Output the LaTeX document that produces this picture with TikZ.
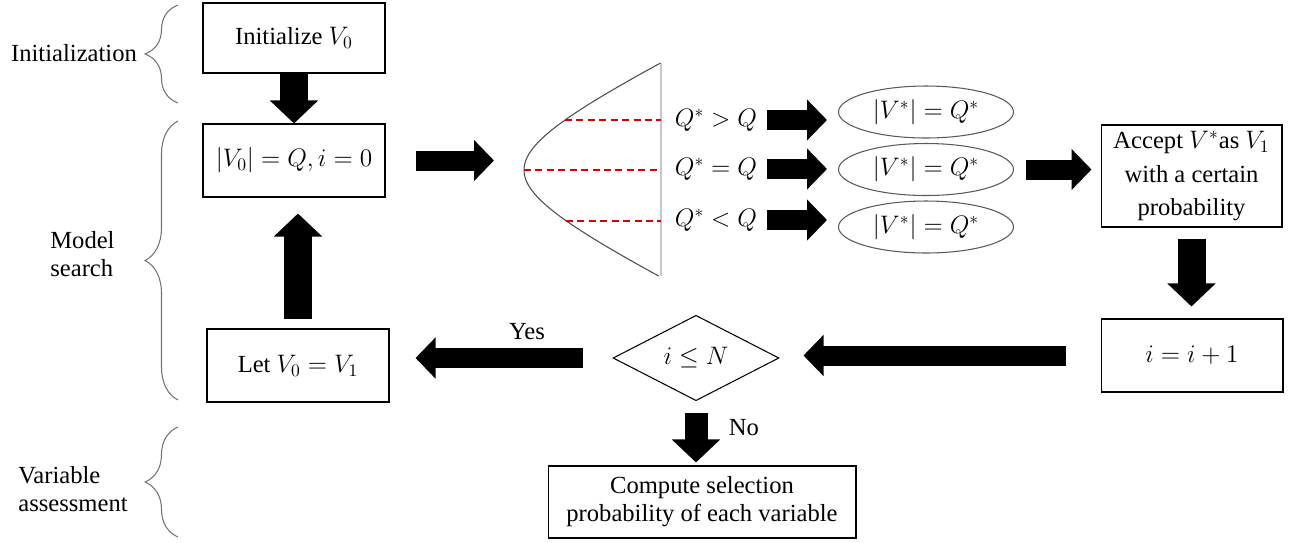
\documentclass[tikz,border=0pt]{standalone}
\usepackage{amsmath,amssymb}
\usepackage{fontspec}
\setmainfont{Liberation Serif}
\usetikzlibrary{arrows.meta,shapes.geometric,decorations.pathreplacing}

\begin{document}
\begin{tikzpicture}[x=0.02cm, y=-0.02cm, font=\fontsize{14}{16}\selectfont,
    every node/.style={inner sep=0pt},
    box/.style={draw, line width=0.6pt, minimum width=3.64cm, minimum height=1.46cm, align=center},
    oval/.style={ellipse, draw=black!65, line width=0.6pt, minimum width=3.5cm, minimum height=1.04cm},
    hfat/.style={line width=0.4cm, -{Triangle[length=0.4cm,width=0.8cm]}},
    vfat/.style={line width=0.56cm, -{Triangle[length=0.46cm,width=0.94cm]}},
    grp/.style={draw=black!55, line width=0.6pt, decorate, decoration={brace, amplitude=0.66cm}},
    cut/.style={red!85!black, line width=1pt, dash pattern=on 4pt off 2.5pt}]
      \useasboundingbox (0,0) rectangle (1289,542);

      % stages on the left
      \node (lab1) at (74,53) {Initialization};
      \node [align=left, anchor=west] (lab2) at (50,254) {Model\\search};
      \node [align=left, anchor=west] (lab3) at (18,489) {Variable\\assessment};
      \draw [grp] (178,103) -- (178,5);
      \draw [grp] (178,400) -- (178,121);
      \draw [grp] (178,537) -- (178,427);

      \node [box, minimum height=1.4cm] (init) at (294,38)    {Initialize $V_0$};
      \node [box]                       (est)  at (294,160.5) {$|V_0| = Q, i = 0$};
      \node [box]                       (letv) at (298,365.5) {Let $V_0 = V_1$};
      \draw [vfat] (init) to (est);
      \draw [vfat, shorten <=0.18cm, shorten >=0.32cm] (letv.north) to (letv.north |- est.south);

      % candidate model
      \coordinate (vtx) at (524,170);
      \draw [black!22, line width=0.8pt] (661,63) -- (661,276);
      \draw [black!70, line width=0.6pt] plot [domain=-107:106, samples=60, smooth, variable=\t]
            ({524+106*(sqrt(1+(\t/52)^2)-1)}, {170+\t});
      \draw [cut] (565,120) -- (661,120);
      \draw [cut] (vtx) -- (661,170);
      \draw [cut] (566,221) -- (661,221);
      \draw [hfat, shorten <=0.6cm, shorten >=0.6cm] (est.east) to (est.east -| vtx);

      \node (q1) at (716,120) {$Q^* > Q$};
      \node (q2) at (716,169) {$Q^* = Q$};
      \node (q3) at (716,220) {$Q^* < Q$};
      \node [oval] (e1) at (926,112)   {$|V^*| = Q^*$};
      \node [oval] (e2) at (926,169.5) {$|V^*| = Q^*$};
      \node [oval] (e3) at (926,227)   {$|V^*| = Q^*$};
      \draw [hfat, shorten <=0.2cm, shorten >=0.22cm] (q1.east) to (q1.east -| e1.west);
      \draw [hfat, shorten <=0.2cm, shorten >=0.22cm] (q2.east) to (q2.east -| e2.west);
      \draw [hfat, shorten <=0.2cm, shorten >=0.22cm] (q3.east) to (q3.east -| e3.west);

      \node [box, minimum width=3.62cm, minimum height=2.04cm, font=\fontsize{14}{19}\selectfont] (accept) at (1191.5,176)
            {Accept $V^*$as $V_1$\\with a certain\\probability};
      \node [box] (incr) at (1192,355.5) {$i = i + 1$};
      \draw [hfat, shorten <=0.24cm, shorten >=0.18cm] (e2.east) to (e2.east -| accept.west);
      \draw [vfat, shorten <=0.22cm, shorten >=0.24cm] (accept.south) to (accept.south |- incr.north);

      % loop test
      \node [diamond, draw, line width=0.6pt, minimum width=3.32cm, minimum height=1.46cm] (cond) at (696,358) {$i \leq N$};
      \node [box, minimum width=6.16cm, minimum height=1.44cm] (comp) at (702,502)
            {Compute selection\\probability of each variable};
      \draw [hfat, shorten <=0.7cm, shorten >=0.48cm] (incr.west) to (incr.west -| cond.east);
      \draw [hfat, shorten <=0.58cm, shorten >=0.52cm] (cond.west) to (cond.west -| letv.east);
      \draw [vfat, line width=0.46cm, shorten <=0.24cm, shorten >=0.06cm] (cond.south) to (cond.south |- comp.north);
      \node (yes) at (527,332) {Yes};
      \node (no)  at (744,428) {No};
    \end{tikzpicture}
\end{document}
